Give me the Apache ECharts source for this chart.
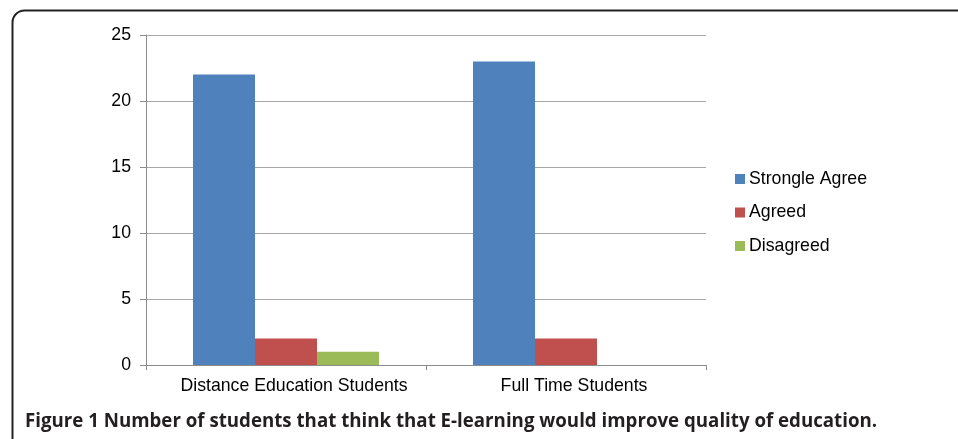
<!DOCTYPE html>
<html>
<head>
<meta charset="utf-8">
<script src="https://cdn.jsdelivr.net/npm/echarts@6/dist/echarts.min.js"></script>
<style>
  html, body { margin: 0; padding: 0; background: #fff; }
  #chart { width: 958px; height: 439px; }
</style>
</head>
<body>
<div id="chart"></div>
<script>
// Survey groups along the x axis
const categories = ['Distance Education Students', 'Full Time Students'];
// Responses per group
const strongleAgree = [22, 23];
const agreed = [2, 2];
const disagreed = [1, 0];
// Value axis ticks
const yMin = 0, yMax = 25, yStep = 5;
const caption = 'Figure 1 Number of students that think that E-learning would improve quality of education.';

const chart = echarts.init(document.getElementById('chart'), null, { renderer: 'canvas' });

const labelFont = { fontFamily: '"Liberation Sans", Arial, sans-serif', fontSize: 17.7, color: '#000' };

function barSeries(name, data, color) {
  return {
    name: name,
    type: 'bar',
    data: data,
    barWidth: 62,
    barGap: '0%',
    itemStyle: { color: color },
    emphasis: { disabled: true }
  };
}

chart.setOption({
  animation: false,
  backgroundColor: '#fff',
  grid: { left: 146, right: 252, top: 35, bottom: 74, containLabel: false },
  legend: {
    orient: 'vertical',
    left: 730,
    top: 165,
    itemWidth: 10,
    itemHeight: 10,
    itemGap: 15.5,
    icon: 'rect',
    textStyle: Object.assign({}, labelFont, { padding: [0, 0, 0, -1] }),
    data: ['Strongle Agree', 'Agreed', 'Disagreed']
  },
  xAxis: {
    type: 'category',
    data: categories,
    axisLine: { lineStyle: { color: '#8c8c8c', width: 1 } },
    axisTick: { show: true, interval: 0, length: 5, lineStyle: { color: '#8c8c8c' } },
    axisLabel: Object.assign({ margin: 12, interval: 0, padding: [0, 0, 0, 16] }, labelFont)
  },
  yAxis: {
    type: 'value',
    min: yMin,
    max: yMax,
    interval: yStep,
    axisLine: { show: true, lineStyle: { color: '#8c8c8c', width: 1 } },
    axisTick: { show: true, length: 6, lineStyle: { color: '#8c8c8c' } },
    splitLine: { lineStyle: { color: '#a6a6a6', width: 1 } },
    axisLabel: Object.assign({ margin: 15 }, labelFont)
  },
  series: [
    barSeries('Strongle Agree', strongleAgree, '#4f81bd'),
    barSeries('Agreed', agreed, '#c0504d'),
    barSeries('Disagreed', disagreed, '#9bbb59')
  ],
  graphic: [
    {
      type: 'rect',
      left: 10, top: 8,
      shape: { width: 970, height: 460, r: 12 },
      style: { fill: 'none', stroke: '#222', lineWidth: 2 },
      silent: true
    },
    {
      type: 'text',
      left: 25, top: 412,
      style: {
        text: caption,
        fill: '#231f20',
        font: 'bold 18.7px "Open Sans", "Noto Sans", sans-serif'
      },
      silent: true
    }
  ]
});
</script>
</body>
</html>
